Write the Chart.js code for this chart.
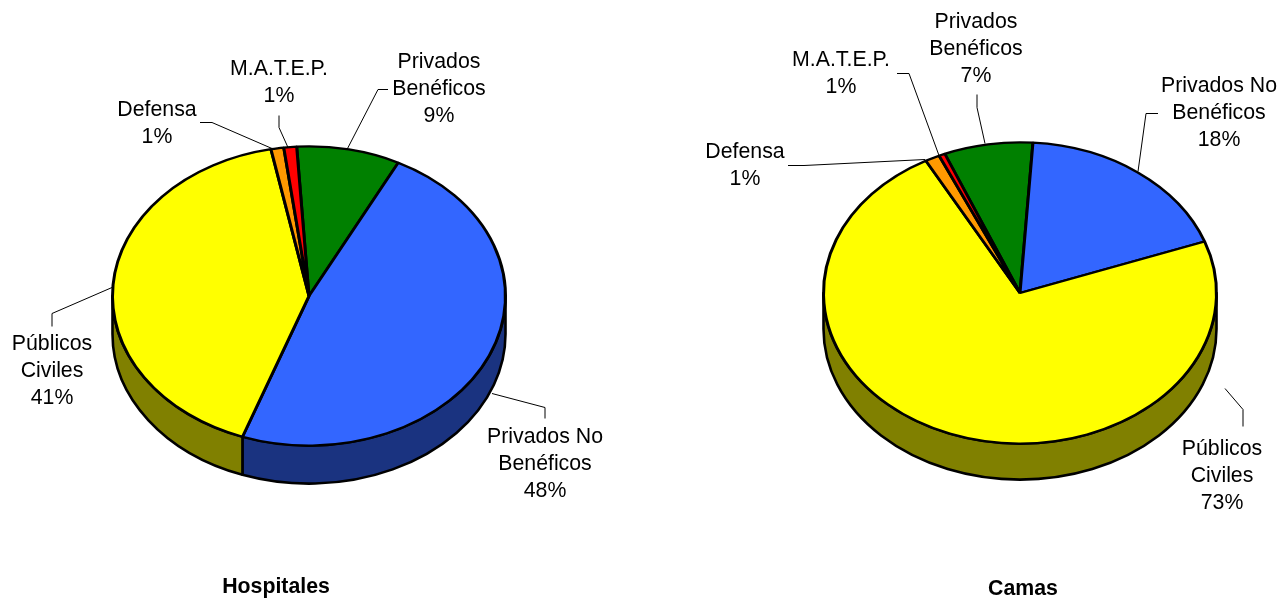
<!DOCTYPE html>
<html>
<head>
<meta charset="utf-8">
<script src="https://cdn.jsdelivr.net/npm/chart.js"></script>
<style>
  html, body { margin: 0; padding: 0; background: #fff; overflow: hidden; }
  canvas { position: absolute; top: 0; }
</style>
</head>
<body>
<canvas id="hospitales" width="640" height="599" style="left:0"></canvas>
<canvas id="camas" width="645" height="599" style="left:640px"></canvas>
<script>
const categories = ['Privados Benéficos', 'Privados No Benéficos', 'Públicos Civiles', 'Defensa', 'M.A.T.E.P.'];
const hospitalesValues = [8.5, 48, 41.4, 1.05, 1.05];
const camasValues = [7.3, 18.4, 72.6, 1.2, 0.5];
const labelLines = [['Privados', 'Benéficos'], ['Privados No', 'Benéficos'], ['Públicos', 'Civiles'], ['Defensa'], ['M.A.T.E.P.']];
const topColors = ['#008000', '#3366ff', '#ffff00', '#ff9900', '#ff0000'];
const sideColors = ['#004000', '#1a3380', '#808000', '#804c00', '#800000'];

const FONT = '"Liberation Sans", Arial, sans-serif';

// label centre x / first line y, then the leader polyline, all in page pixels
const hospitalesLayout = {
  offset: 0, squash: 150 / 197, depth: 38, rotation: -3.6,
  padding: { left: 111, right: 133, top: 98, bottom: 105 },
  title: 'Hospitales', titleX: 276, titleY: 587,
  labels: [
    { x: 439, y: 62, line: [[388, 89], [378, 89], [347, 149]] },
    { x: 545, y: 437, line: [[545, 418], [545, 407], [492, 393]] },
    { x: 52, y: 344, line: [[52, 326], [52, 313], [112, 287]] },
    { x: 157, y: 110, line: [[200, 122], [212, 122], [272, 148]] },
    { x: 279, y: 69, line: [[279, 115], [279, 127], [288, 147]] }
  ]
};
const camasLayout = {
  offset: 640, squash: 151 / 197, depth: 36, rotation: -22.5,
  padding: { left: 182, right: 67, top: 95, bottom: 108 },
  title: 'Camas', titleX: 1023, titleY: 589,
  labels: [
    { x: 976, y: 22, line: [[977, 94], [977, 107], [985, 143]] },
    { x: 1219, y: 86, line: [[1158, 113], [1146, 113], [1138, 171]] },
    { x: 1222, y: 449, line: [[1225, 388], [1243, 409], [1243, 426]] },
    { x: 745, y: 152, line: [[788, 165], [804, 165], [925, 159]] },
    { x: 841, y: 60, line: [[897, 73], [909, 73], [939, 155]] }
  ]
};

// squashes the pie into an ellipse and adds the side wall under it
const pie3d = {
  id: 'pie3d',
  beforeDatasetsDraw(chart, args, opts) {
    const ctx = chart.ctx;
    const arcs = chart.getDatasetMeta(0).data;
    const first = arcs[0];
    const k = opts.squash;
    ctx.save();
    ctx.lineWidth = 2.6;
    ctx.strokeStyle = '#000';
    ctx.lineJoin = 'round';
    arcs.forEach((arc, i) => {
      const a0 = Math.max(arc.startAngle, 0);
      const a1 = Math.min(arc.endAngle, Math.PI);
      if (a1 <= a0) return;
      ctx.beginPath();
      ctx.ellipse(arc.x, arc.y, arc.outerRadius, arc.outerRadius * k, 0, a0, a1);
      ctx.ellipse(arc.x, arc.y + opts.depth, arc.outerRadius, arc.outerRadius * k, 0, a1, a0, true);
      ctx.closePath();
      ctx.fillStyle = sideColors[i];
      ctx.fill();
      ctx.stroke();
    });
    ctx.restore();
    ctx.save();
    ctx.translate(first.x, first.y);
    ctx.scale(1, k);
    ctx.translate(-first.x, -first.y);
  },
  afterDatasetsDraw(chart) {
    chart.ctx.restore();
  },
  afterDraw(chart, args, opts) {
    const ctx = chart.ctx;
    const values = chart.data.datasets[0].data;
    ctx.save();
    ctx.translate(-opts.offset, 0);
    ctx.fillStyle = '#000';
    ctx.strokeStyle = '#000';
    ctx.lineWidth = 1;
    ctx.textAlign = 'center';
    ctx.textBaseline = 'middle';
    ctx.font = '21.3px ' + FONT;
    opts.labels.forEach((lab, i) => {
      const pct = Math.max(Math.round(values[i]), 1);
      const lines = labelLines[i].concat(pct + '%');
      lines.forEach((txt, n) => ctx.fillText(txt, lab.x, lab.y + n * 27));
      ctx.beginPath();
      lab.line.forEach((p, n) => n ? ctx.lineTo(p[0], p[1] + 0.5) : ctx.moveTo(p[0], p[1] + 0.5));
      ctx.stroke();
    });
    ctx.font = 'bold 21.3px ' + FONT;
    ctx.fillText(opts.title, opts.titleX, opts.titleY);
    ctx.restore();
  }
};

function drawPie(id, values, layout) {
  return new Chart(document.getElementById(id), {
    type: 'pie',
    data: {
      labels: categories,
      datasets: [{
        data: values,
        backgroundColor: topColors,
        borderColor: '#000',
        borderWidth: 3
      }]
    },
    options: {
      responsive: false,
      animation: false,
      rotation: layout.rotation,
      layout: { padding: layout.padding },
      plugins: {
        legend: { display: false },
        tooltip: { enabled: false },
        pie3d: layout
      }
    },
    plugins: [pie3d]
  });
}

drawPie('hospitales', hospitalesValues, hospitalesLayout);
drawPie('camas', camasValues, camasLayout);
</script>
</body>
</html>
